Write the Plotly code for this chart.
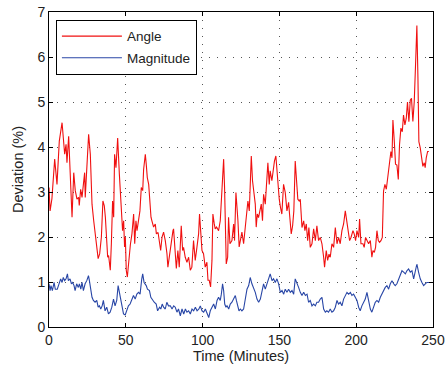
import plotly.graph_objects as go

# Angle deviation series (time in minutes, deviation in %)
angle_t = [0, 0.7, 1.9, 3.0, 3.7, 5.2, 6.7, 8.5, 10.2, 11.1, 11.7, 12.8, 13.5, 14.1, 15.0, 16.1, 17.1, 18.2, 19.3, 19.7,
           20.6, 21.5, 23.2, 23.6, 24.7, 25.8, 26.9, 28.0, 29.1, 30.2, 30.8, 32.0, 33.0, 34.1, 35.1, 36.0, 36.7, 37.3, 38.2, 38.8,
           39.9, 40.6, 41.4, 42.1, 42.7, 43.6, 44.7, 45.8, 47.1, 47.9, 48.6, 49.2, 49.7, 50.3, 51.0, 51.9, 53.0, 54.0, 55.1, 55.8,
           56.6, 57.3, 58.4, 59.2, 60.1, 61.0, 61.6, 62.7, 63.3, 64.0, 64.9, 65.5, 66.4, 67.0, 68.1, 69.2, 69.9, 71.0, 72.0, 72.7,
           73.6, 74.6, 75.7, 76.8, 77.4, 78.5, 79.6, 80.7, 81.1, 82.2, 82.9, 83.9, 84.8, 86.1, 87.0, 87.6, 88.7, 89.8, 90.9, 92.0,
           93.0, 94.1, 95.2, 96.3, 97.4, 98.0, 98.9, 99.6, 100.6, 101.7, 102.8, 103.5, 104.3, 105.2, 106.1, 106.7, 107.6, 108.2, 109.1, 110.4,
           111.5, 112.6, 113.7, 114.3, 114.7, 115.4, 116.3, 116.9, 117.8, 119.1, 120.2, 120.8, 121.7, 122.3, 123.0, 123.8, 124.7, 125.6, 126.7, 127.8,
           128.4, 129.5, 130.4, 131.0, 131.7, 132.5, 133.6, 134.3, 134.9, 135.6, 136.4, 137.5, 138.2, 139.0, 139.7, 140.8, 141.6, 142.5, 143.4, 144.0,
           145.1, 146.0, 146.8, 147.7, 148.4, 149.0, 149.9, 150.7, 151.6, 152.7, 153.8, 154.9, 156.0, 156.6, 157.7, 158.6, 159.4, 160.3, 161.2, 162.0,
           162.9, 163.6, 164.7, 165.8, 166.6, 167.5, 168.4, 169.2, 170.1, 171.2, 172.3, 173.4, 174.4, 175.5, 176.6, 177.7, 178.8, 179.4, 180.5, 181.4,
           182.3, 183.1, 184.2, 185.3, 186.4, 187.5, 188.5, 189.6, 190.7, 191.8, 192.9, 193.5, 194.4, 195.7, 196.6, 197.9, 198.7, 199.6, 200.5, 201.6,
           202.2, 203.1, 204.4, 205.2, 206.1, 207.0, 208.1, 209.2, 210.2, 210.9, 211.8, 212.6, 213.5, 214.4, 215.2, 216.1, 217.0, 217.8, 218.7, 219.6,
           220.4, 221.3, 221.7, 222.6, 223.3, 223.9, 224.8, 225.6, 226.5, 227.4, 228.2, 229.1, 230.0, 230.8, 231.7, 232.6, 233.4, 234.3, 235.2, 236.0,
           236.9, 237.8, 238.7, 239.5, 240.2, 240.8, 241.7, 242.6, 243.4, 244.3, 244.9, 245.6, 246.5, 247.3]
angle_v = [3.10, 2.58, 2.85, 3.30, 3.73, 3.17, 4.13, 4.54, 3.84, 4.06, 3.65, 4.24, 3.60, 3.40, 2.44, 3.43, 3.03, 2.84, 2.88, 2.70,
           3.06, 2.88, 3.43, 2.88, 3.69, 4.28, 3.84, 2.73, 2.36, 2.03, 1.92, 1.52, 1.63, 2.00, 2.80, 2.69, 2.44, 2.00, 1.55, 1.59,
           1.26, 1.85, 2.80, 2.44, 3.84, 3.54, 4.20, 3.40, 2.58, 2.14, 2.36, 1.78, 2.00, 1.26, 1.11, 1.48, 1.84, 2.07, 2.51, 1.85,
           2.36, 2.14, 2.44, 2.58, 3.10, 3.03, 3.50, 3.84, 3.62, 3.32, 3.17, 2.80, 2.44, 2.36, 2.22, 2.29, 2.07, 2.10, 1.78, 1.70,
           2.00, 2.11, 1.92, 1.63, 1.33, 1.63, 1.92, 2.14, 2.18, 1.70, 1.30, 1.70, 1.33, 2.25, 1.70, 1.77, 1.55, 1.44, 1.55, 1.26,
           1.33, 1.92, 1.48, 1.77, 2.07, 2.51, 2.14, 1.70, 1.63, 1.33, 1.44, 1.04, 1.04, 0.89, 1.48, 2.51, 2.29, 2.18, 2.22, 2.14,
           2.36, 3.03, 3.73, 3.10, 2.14, 1.40, 1.55, 2.44, 1.85, 1.92, 2.29, 1.92, 2.99, 2.73, 2.36, 1.78, 1.92, 2.11, 1.85, 2.22,
           2.51, 2.80, 2.58, 3.40, 3.80, 3.25, 2.99, 2.73, 2.22, 2.51, 2.43, 2.66, 2.73, 2.36, 2.95, 2.73, 3.32, 3.65, 3.17, 3.47,
           3.25, 3.50, 3.69, 3.80, 3.47, 3.25, 2.84, 2.66, 2.51, 3.17, 2.99, 2.58, 2.77, 2.51, 2.07, 2.25, 2.58, 3.69, 3.25, 2.84,
           2.80, 2.84, 2.21, 2.36, 2.14, 2.29, 1.92, 2.21, 1.77, 1.85, 2.18, 1.92, 2.25, 1.92, 1.99, 1.85, 1.55, 1.33, 1.70, 1.48,
           1.62, 1.55, 1.85, 1.77, 2.21, 1.85, 1.99, 1.85, 2.14, 2.29, 2.58, 2.43, 2.21, 1.92, 1.99, 2.14, 2.07, 1.92, 2.14, 1.99,
           2.40, 1.85, 1.85, 1.77, 1.99, 1.92, 1.85, 1.92, 1.55, 1.70, 1.66, 1.77, 2.14, 1.92, 1.88, 1.92, 1.99, 3.02, 3.17, 3.06,
           3.24, 3.54, 3.65, 3.90, 3.76, 4.60, 4.13, 3.62, 3.60, 3.28, 4.05, 4.42, 4.34, 4.71, 4.49, 4.64, 5.00, 4.56, 5.04, 5.08,
           4.57, 5.01, 5.89, 6.70, 5.52, 4.12, 3.98, 3.68, 3.57, 3.65, 3.54, 3.76, 3.90, 3.90]

# Magnitude deviation series
mag_t = [0, 0.7, 1.3, 2.2, 3.3, 4.1, 5.4, 6.3, 7.6, 8.5, 9.3, 10.2, 11.1, 12.0, 12.6, 13.7, 14.6, 15.4, 16.3, 17.0,
         18.0, 19.1, 19.8, 20.7, 21.5, 22.4, 23.5, 24.6, 25.7, 26.3, 27.2, 28.0, 28.9, 30.0, 31.1, 32.0, 32.8, 33.7, 34.6, 35.4,
         36.5, 37.6, 38.7, 39.8, 40.9, 42.0, 43.0, 44.1, 45.0, 45.9, 46.7, 47.6, 48.5, 49.6, 50.7, 51.7, 52.8, 53.9, 55.0, 56.1,
         57.2, 58.3, 59.3, 60.4, 61.0, 61.9, 63.3, 64.1, 65.4, 66.3, 67.6, 68.5, 69.8, 70.7, 72.0, 72.8, 73.7, 74.6, 75.7, 76.7,
         77.8, 79.0, 80.1, 81.2, 82.2, 83.3, 84.3, 85.5, 86.6, 87.7, 88.8, 89.8, 90.9, 92.0, 93.1, 94.2, 95.3, 96.4, 97.6, 98.5,
         99.6, 100.7, 101.8, 102.9, 104.0, 105.0, 106.1, 107.2, 108.3, 109.4, 110.4, 111.5, 112.2, 113.0, 113.7, 114.4, 115.2, 115.9, 117.0, 118.0,
         119.1, 120.2, 121.3, 122.0, 122.8, 123.7, 124.6, 125.6, 126.7, 127.8, 128.9, 130.0, 131.0, 132.1, 133.2, 134.3, 135.4, 136.5, 137.6, 138.7,
         139.7, 140.8, 141.9, 143.0, 144.0, 145.2, 146.2, 147.3, 148.4, 149.5, 150.6, 151.7, 152.8, 153.8, 154.9, 156.0, 157.1, 158.2, 159.3, 160.3,
         161.4, 162.5, 163.6, 164.7, 165.8, 166.9, 168.0, 169.0, 170.1, 171.2, 172.3, 173.4, 174.4, 175.5, 176.6, 177.7, 178.8, 179.9, 180.9, 182.0,
         183.1, 184.2, 185.3, 186.4, 187.5, 188.5, 189.6, 190.7, 191.8, 192.9, 194.0, 195.1, 196.2, 197.2, 198.3, 199.4, 200.5, 201.6, 202.6, 203.7,
         204.8, 205.9, 207.0, 208.1, 209.2, 210.2, 211.3, 212.4, 213.5, 214.6, 215.7, 216.7, 217.8, 218.9, 220.0, 221.1, 222.2, 223.3, 224.4, 225.4,
         226.5, 227.6, 228.7, 229.8, 230.9, 232.0, 233.0, 234.1, 235.2, 236.3, 237.4, 238.5, 239.5, 240.6, 241.7, 242.8, 243.9, 245.0, 246.0, 247.1,
         248.2]
mag_v = [0.96, 0.81, 0.92, 0.81, 0.99, 0.84, 0.84, 0.92, 1.07, 0.99, 1.10, 1.03, 1.07, 1.18, 1.03, 1.07, 0.96, 0.99, 0.92, 0.81,
         0.96, 0.88, 0.96, 0.84, 0.99, 0.81, 0.96, 1.03, 1.14, 1.03, 0.81, 0.66, 0.59, 0.55, 0.59, 0.44, 0.47, 0.40, 0.47, 0.59,
         0.36, 0.44, 0.29, 0.33, 0.44, 0.62, 0.47, 0.59, 0.92, 0.77, 0.59, 0.51, 0.29, 0.27, 0.40, 0.47, 0.51, 0.59, 0.70, 0.62,
         0.73, 0.77, 0.73, 1.07, 1.18, 0.99, 0.92, 0.84, 0.81, 0.66, 0.59, 0.55, 0.51, 0.36, 0.44, 0.40, 0.51, 0.44, 0.40, 0.55,
         0.47, 0.47, 0.40, 0.47, 0.44, 0.33, 0.40, 0.25, 0.40, 0.29, 0.40, 0.33, 0.36, 0.29, 0.40, 0.36, 0.44, 0.36, 0.40, 0.47,
         0.36, 0.33, 0.40, 0.29, 0.21, 0.36, 0.44, 0.51, 0.40, 0.59, 0.66, 0.59, 0.73, 0.96, 0.81, 0.51, 0.44, 0.47, 0.40, 0.51,
         0.55, 0.62, 0.70, 0.59, 0.44, 0.36, 0.40, 0.36, 0.40, 0.59, 0.84, 0.92, 1.10, 0.96, 0.88, 0.77, 0.62, 0.55, 0.62, 0.81,
         0.96, 0.84, 0.96, 1.07, 1.18, 1.03, 1.07, 0.99, 1.07, 0.96, 0.77, 0.81, 0.73, 0.84, 0.77, 0.84, 0.77, 0.81, 0.73, 1.07,
         0.99, 0.88, 0.77, 0.70, 0.77, 0.70, 0.73, 0.55, 0.59, 0.47, 0.51, 0.47, 0.55, 0.55, 0.62, 0.66, 0.40, 0.33, 0.36, 0.33,
         0.40, 0.33, 0.36, 0.44, 0.59, 0.51, 0.55, 0.47, 0.62, 0.70, 0.77, 0.73, 0.77, 0.70, 0.73, 0.66, 0.59, 0.44, 0.36, 0.47,
         0.55, 0.62, 0.77, 0.55, 0.40, 0.33, 0.47, 0.55, 0.59, 0.55, 0.66, 0.73, 0.84, 0.88, 0.92, 0.84, 0.96, 1.03, 0.96, 0.92,
         0.96, 1.07, 1.14, 1.25, 1.22, 1.18, 1.25, 1.29, 1.22, 1.25, 1.07, 1.29, 1.40, 1.22, 1.07, 0.99, 0.92, 0.96, 0.99, 0.99,
         0.99]

series_names = ["Angle", "Magnitude"]
x_ticks = [0, 50, 100, 150, 200, 250]
y_ticks = [0, 1, 2, 3, 4, 5, 6, 7]

FONT = "Liberation Sans, Arial, Helvetica, sans-serif"
TXT = "#222222"

fig = go.Figure()
fig.add_trace(go.Scatter(x=angle_t, y=angle_v, mode="lines", name=series_names[0],
                         legendgroup="a", line=dict(color="#f01010", width=1.1)))
fig.add_trace(go.Scatter(x=mag_t, y=mag_v, mode="lines", name=series_names[1],
                         legendgroup="b", line=dict(color="#2846a6", width=1.1)))

axis_common = dict(
    showline=True, linecolor="black", linewidth=1, mirror="ticks",
    ticks="inside", ticklen=4, tickcolor="black",
    showgrid=True, gridcolor="#555555", gridwidth=1, griddash="1px,7px",
    zeroline=False, tickfont=dict(family=FONT, size=14, color=TXT),
    automargin=False, ticklabeloverflow="allow",
)

fig.update_xaxes(range=[0, 250], tickvals=x_ticks, **axis_common,
                 title=dict(text="Time (Minutes)", font=dict(family=FONT, size=14.5, color=TXT), standoff=4))
fig.update_yaxes(range=[0, 7], tickvals=y_ticks, **axis_common,
                 title=dict(text="Deviation (%)", font=dict(family=FONT, size=14.5, color=TXT), standoff=10))

fig.update_layout(
    width=446, height=366,
    margin=dict(l=49, r=13, t=12, b=39),
    plot_bgcolor="white", paper_bgcolor="white",
    font=dict(family=FONT, size=13, color=TXT),
    showlegend=True,
    legend=dict(x=0.018, y=0.975, xanchor="left", yanchor="top",
                bgcolor="white", bordercolor="black", borderwidth=1,
                font=dict(family=FONT, size=13.5, color=TXT),
                itemwidth=60, tracegroupgap=1),
)

# remove the default 8px page margin so the figure sits at the window origin
fig.write_html("out.html",
               config={"displayModeBar": False, "staticPlot": True},
               post_script="document.body.style.margin='0';document.body.style.overflow='hidden';")
